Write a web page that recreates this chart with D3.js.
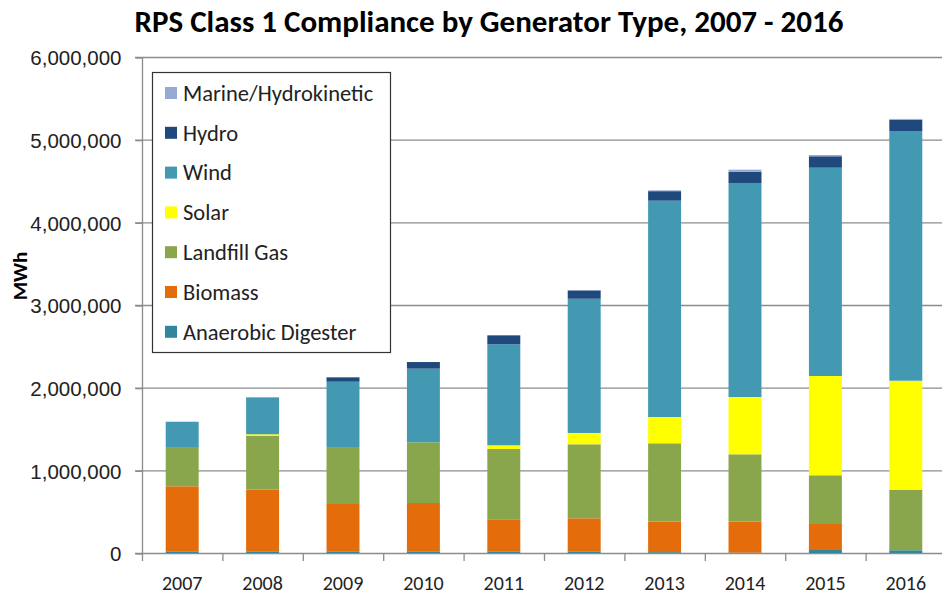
<!DOCTYPE html>
<html>
<head>
<meta charset="utf-8">
<script src="https://cdn.jsdelivr.net/npm/d3@7"></script>
<style>
	body { margin: 0; background: #fff; }
	svg { display: block; font-family: Carlito, Lato, "Liberation Sans", sans-serif; }
</style>
</head>
<body>
<svg id="chart" width="942" height="596"></svg>
<script>
// data (MWh)
const years = ["2007", "2008", "2009", "2010", "2011", "2012", "2013", "2014", "2015", "2016"];
const seriesNames = ["Anaerobic Digester", "Biomass", "Landfill Gas", "Solar", "Wind", "Hydro", "Marine/Hydrokinetic"];
const anaerobic = [20000, 20000, 20000, 20000, 20000, 20000, 10000, 5000, 36000, 33000];
const biomass = [787000, 746000, 573000, 585000, 388000, 400000, 369000, 374000, 315000, 0];
const landfill = [475000, 653000, 689000, 734000, 850000, 895000, 948000, 815000, 589000, 733000];
const solar = [0, 17000, 0, 0, 45000, 137000, 318000, 693000, 1201000, 1318000];
const wind = [306000, 447000, 790000, 891000, 1222000, 1624000, 2617000, 2589000, 2520000, 3021000];
const hydro = [0, 0, 53000, 80000, 108000, 100000, 115000, 137000, 138000, 136000];
const marine = [0, 0, 0, 0, 0, 5000, 10000, 24000, 15000, 10000];
const yTicks = [0, 1000000, 2000000, 3000000, 4000000, 5000000, 6000000];

const colors = ["#31859c", "#e46c0a", "#8aa64c", "#ffff00", "#4399b1", "#1f497d", "#95a9d2"];
const values = [anaerobic, biomass, landfill, solar, wind, hydro, marine];

// table for d3.stack
const table = years.map((y, i) => {
	const row = { year: y };
	seriesNames.forEach((s, j) => (row[s] = values[j][i]));
	return row;
});

const margin = { top: 57, right: -4, bottom: 43, left: 142 },
	width = 942,
	height = 596;

const svg = d3.select("#chart");

const x_scale = d3
	.scaleBand()
	.domain(years)
	.range([margin.left, width - margin.right])
	.paddingInner(0.59)
	.paddingOuter(0.295);

const y_scale = d3
	.scaleLinear()
	.domain([0, 6000000])
	.range([height - margin.bottom, margin.top]);

const gridColor = "#8c8c8c";

// gridlines
svg
	.append("g")
	.selectAll("line")
	.data(yTicks)
	.join("line")
	.attr("x1", margin.left - 7)
	.attr("x2", width)
	.attr("y1", (d) => y_scale(d) + 0.5)
	.attr("y2", (d) => y_scale(d) + 0.5)
	.attr("stroke", gridColor)
	.attr("stroke-width", 1.3);

// stacked bars
const stacked = d3.stack().keys(seriesNames)(table);

svg
	.append("g")
	.selectAll("g")
	.data(stacked)
	.join("g")
	.attr("fill", (d, i) => colors[i])
	.selectAll("rect")
	.data((d) => d)
	.join("rect")
	.attr("x", (d) => x_scale(d.data.year))
	.attr("y", (d) => y_scale(d[1]))
	.attr("width", x_scale.bandwidth())
	.attr("height", (d) => y_scale(d[0]) - y_scale(d[1]));

// y axis
const y_axis = d3
	.axisLeft(y_scale)
	.tickValues(yTicks)
	.tickFormat(d3.format(","))
	.tickSize(7)
	.tickPadding(14);

const gy = svg
	.append("g")
	.attr("transform", `translate(${margin.left + 0.5},0.5)`)
	.call(y_axis);
gy.selectAll("path, line").attr("stroke", gridColor).attr("stroke-width", 1.3);
gy.select(".domain").attr("d", `M0,${y_scale(0)}V${y_scale(6000000)}`);
gy.selectAll("text").style("font-size", "20.5px").attr("fill", "#222").attr("dy", "0.35em");

// x axis: ticks sit between categories
const xBounds = d3.range(years.length + 1).map((i) => margin.left + i * x_scale.step());
svg
	.append("g")
	.selectAll("line")
	.data(xBounds)
	.join("line")
	.attr("x1", (d) => d + 0.5)
	.attr("x2", (d) => d + 0.5)
	.attr("y1", y_scale(0))
	.attr("y2", y_scale(0) + 8)
	.attr("stroke", gridColor)
	.attr("stroke-width", 1.3);

svg
	.append("g")
	.selectAll("text")
	.data(years)
	.join("text")
	.attr("x", (d) => x_scale(d) + x_scale.bandwidth() / 2)
	.attr("y", 590)
	.attr("text-anchor", "middle")
	.style("font-size", "20px")
	.attr("fill", "#222")
	.text((d) => d);

// title
svg
	.append("text")
	.attr("x", 489)
	.attr("y", 32)
	.attr("text-anchor", "middle")
	.style("font-size", "31px")
	.style("font-weight", "bold")
	.text("RPS Class 1 Compliance by Generator Type, 2007 - 2016");

// y label
svg
	.append("text")
	.attr("transform", "translate(20,276) rotate(-90)")
	.attr("dy", "0.35em")
	.attr("text-anchor", "middle")
	.style("font-size", "21px")
	.style("font-weight", "bold")
	.text("MWh");

// legend
const legend = svg.append("g");
legend
	.append("rect")
	.attr("x", 152.5)
	.attr("y", 72.5)
	.attr("width", 238)
	.attr("height", 280)
	.attr("fill", "#fff")
	.attr("stroke", "#333")
	.attr("stroke-width", 1.2);

const legendItems = seriesNames.map((s, i) => ({ name: s, color: colors[i] })).reverse();
const items = legend
	.selectAll("g.item")
	.data(legendItems)
	.join("g")
	.attr("class", "item")
	.attr("transform", (d, i) => `translate(165,${93 + i * 39.8})`);

items
	.append("rect")
	.attr("x", 0)
	.attr("y", -6)
	.attr("width", 12)
	.attr("height", 12)
	.attr("fill", (d) => d.color);

items
	.append("text")
	.attr("x", 18)
	.attr("y", 0)
	.attr("dy", "0.35em")
	.style("font-size", "22.5px")
	.attr("fill", "#222")
	.text((d) => d.name);
</script>
</body>
</html>
